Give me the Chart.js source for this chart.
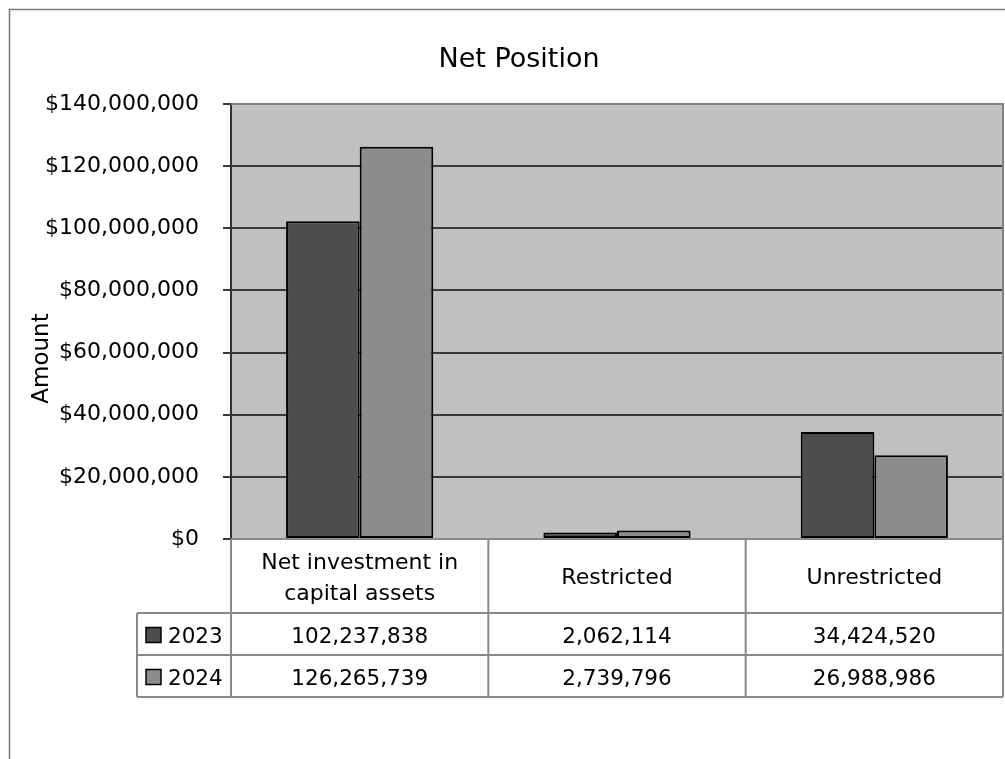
<!DOCTYPE html>
<html>
<head>
<meta charset="utf-8">
<script src="https://cdn.jsdelivr.net/npm/chart.js@4.4.1/dist/chart.umd.min.js"></script>
<style>
  html, body { margin: 0; padding: 0; background: #ffffff; }
  #wrap { width: 1005px; height: 759px; position: relative; }
</style>
</head>
<body>
<div id="wrap"><canvas id="chart" width="1005" height="759"></canvas></div>
<script>
// Net position by component, fiscal 2023 vs 2024
const categories = [["Net investment in", "capital assets"], "Restricted", "Unrestricted"];
const seriesNames = ["2023", "2024"];
const values2023 = [102237838, 2062114, 34424520];
const values2024 = [126265739, 2739796, 26988986];
const yTickValues = [0, 20000000, 40000000, 60000000, 80000000, 100000000, 120000000, 140000000];
const chartTitle = "Net Position";
const valueAxisTitle = "Amount";

const FONT = "'DejaVu Sans', 'Open Sans', sans-serif";
const seriesFill = ["#4d4d4d", "#8c8c8c"];
const TABLE_LINE = "#8a8a8a";

const fmtNum = v => v.toLocaleString("en-US");

// Plot background, outer chart frame, title and value-axis caption
const backdrop = {
  id: "backdrop",
  beforeDraw(chart) {
    const { ctx, chartArea: a } = chart;
    ctx.save();
    ctx.fillStyle = "#ffffff";
    ctx.fillRect(0, 0, chart.width, chart.height);
    ctx.strokeStyle = "#7a7a7a";
    ctx.lineWidth = 1.5;
    ctx.beginPath();
    ctx.moveTo(9.5, chart.height + 5);
    ctx.lineTo(9.5, 9.5);
    ctx.lineTo(chart.width + 5, 9.5);
    ctx.stroke();
    ctx.fillStyle = "#c0c0c0";
    ctx.fillRect(a.left, a.top, a.right - a.left, a.bottom - a.top);

    ctx.fillStyle = "#000000";
    ctx.textAlign = "center";
    ctx.textBaseline = "alphabetic";
    ctx.font = "27px " + FONT;
    ctx.fillText(chartTitle, 519, 67);

    // caption centred over the plot plus the category header row
    ctx.save();
    ctx.translate(48, (a.top + a.bottom + 74) / 2);
    ctx.rotate(-Math.PI / 2);
    ctx.font = "23px " + FONT;
    ctx.fillText(valueAxisTitle, 0, 0);
    ctx.restore();
    ctx.restore();
  },
  afterDatasetsDraw(chart) {
    const { ctx, chartArea: a } = chart;
    ctx.save();
    ctx.strokeStyle = "#808080";
    ctx.lineWidth = 2;
    ctx.beginPath();
    ctx.moveTo(a.left, a.top);
    ctx.lineTo(a.right, a.top);
    ctx.lineTo(a.right, a.bottom);
    ctx.stroke();
    ctx.restore();
  }
};

// Data table under the category axis, columns aligned with the x scale
const dataTable = {
  id: "dataTable",
  afterDraw(chart) {
    const { ctx, chartArea: a } = chart;
    const xs = chart.scales.x;
    const n = categories.length;
    const bounds = [];
    for (let i = 0; i <= n; i++) {
      if (i === 0) bounds.push(a.left);
      else if (i === n) bounds.push(a.right);
      else bounds.push((xs.getPixelForValue(i - 1) + xs.getPixelForValue(i)) / 2);
    }
    const headTop = a.bottom;
    const headBottom = headTop + 74;
    const rowH = 42;
    const rows = [values2023, values2024];
    const tableBottom = headBottom + rowH * rows.length;
    const legendLeft = 137;

    ctx.save();
    ctx.strokeStyle = TABLE_LINE;
    ctx.lineWidth = 2;
    ctx.beginPath();
    bounds.forEach(x => { ctx.moveTo(x, headTop); ctx.lineTo(x, tableBottom); });
    ctx.moveTo(legendLeft, headBottom); ctx.lineTo(legendLeft, tableBottom);
    ctx.moveTo(a.left, headTop); ctx.lineTo(a.right, headTop);
    for (let r = 0; r <= rows.length; r++) {
      const y = headBottom + r * rowH;
      ctx.moveTo(legendLeft, y); ctx.lineTo(a.right, y);
    }
    ctx.stroke();

    ctx.fillStyle = "#000000";
    ctx.textAlign = "center";
    ctx.textBaseline = "alphabetic";
    ctx.font = "22px " + FONT;
    // category headers
    const headMid = (headTop + headBottom) / 2;
    categories.forEach((c, i) => {
      const cx = (bounds[i] + bounds[i + 1]) / 2;
      const lines = Array.isArray(c) ? c : [c];
      const lh = 31;
      lines.forEach((t, k) => {
        const mid = headMid + (k - (lines.length - 1) / 2) * lh;
        ctx.fillText(t, cx, mid + 8);
      });
    });
    // values, legend keys and series names
    ctx.font = "21.5px " + FONT;
    rows.forEach((vals, r) => {
      const cy = headBottom + r * rowH + rowH / 2;
      vals.forEach((v, i) => {
        const cx = (bounds[i] + bounds[i + 1]) / 2;
        ctx.fillText(fmtNum(v), cx, cy + 8.5);
      });
      const kx = legendLeft + 9, ks = 15;
      ctx.fillStyle = seriesFill[r];
      ctx.fillRect(kx, cy - ks / 2 + 1, ks, ks);
      ctx.strokeStyle = "#000000";
      ctx.lineWidth = 1.5;
      ctx.strokeRect(kx, cy - ks / 2 + 1, ks, ks);
      ctx.fillStyle = "#000000";
      ctx.textAlign = "left";
      ctx.fillText(seriesNames[r], kx + ks + 7, cy + 8.5);
      ctx.textAlign = "center";
    });
    ctx.restore();
  }
};

new Chart(document.getElementById("chart"), {
  type: "bar",
  data: {
    labels: categories,
    datasets: [
      { label: seriesNames[0], data: values2023, backgroundColor: seriesFill[0], borderColor: "#000000", borderWidth: 2, borderSkipped: false },
      { label: seriesNames[1], data: values2024, backgroundColor: seriesFill[1], borderColor: "#000000", borderWidth: 2, borderSkipped: false }
    ]
  },
  options: {
    responsive: false,
    animation: false,
    devicePixelRatio: 1,
    categoryPercentage: 0.572,
    barPercentage: 1.0,
    layout: { padding: { left: 0, right: 2, top: 104, bottom: 0 } },
    plugins: {
      legend: { display: false },
      tooltip: { enabled: false },
      title: { display: false }
    },
    scales: {
      x: {
        grid: { display: false },
        border: { display: false },
        ticks: { display: false },
        afterFit(s) { s.height = 220; }
      },
      y: {
        min: 0,
        max: 140000000,
        afterBuildTicks(s) { s.ticks = yTickValues.map(v => ({ value: v })); },
        ticks: {
          color: "#000000",
          font: { family: FONT, size: 22 },
          padding: 24,
          callback: v => "$" + fmtNum(v)
        },
        grid: {
          color: c => (c.tick && (c.tick.value === 140000000 || c.tick.value === 0)) ? "#808080" : "#3a3a3a",
          lineWidth: 2,
          tickLength: 8,
          tickColor: "#3a3a3a"
        },
        border: { display: true, color: "#333333", width: 2 },
        title: { display: false },
        afterFit(s) { s.width = 231; }
      }
    }
  },
  plugins: [backdrop, dataTable]
});
</script>
</body>
</html>
